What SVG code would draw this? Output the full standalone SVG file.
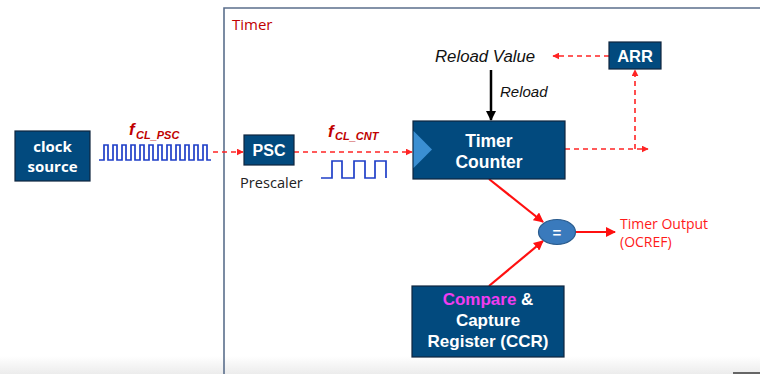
<svg xmlns="http://www.w3.org/2000/svg" width="760" height="374" viewBox="0 0 760 374">
<style>
.box{fill:#024a7e;stroke:#10263f;stroke-width:1.2}
.bt{font-family:"Liberation Sans",Arial,sans-serif;font-weight:bold;fill:#fff;text-anchor:middle}
.dash{fill:none;stroke:#ff2424;stroke-width:1.6;stroke-dasharray:5,4}
.solid{fill:none;stroke:#ff1010;stroke-width:2.2}
.sub{font-family:"Liberation Sans",Arial,sans-serif;font-weight:bold;font-style:italic;fill:#c00000}
.wave{fill:none;stroke:#1f3fc8;stroke-width:1.7}
.gs{font-family:"Open Sans","Liberation Sans",sans-serif}
</style>
<defs>
<marker id="ad" viewBox="0 0 10 10" refX="9" refY="5" markerWidth="7" markerHeight="7" markerUnits="userSpaceOnUse" orient="auto"><path d="M0,0 L10,5 L0,10 z" fill="#ff2424"/></marker>
<marker id="ar" viewBox="0 0 10 10" refX="9" refY="5" markerWidth="10" markerHeight="10" markerUnits="userSpaceOnUse" orient="auto"><path d="M0,0 L10,5 L0,10 z" fill="#ff1010"/></marker>
<marker id="ab" viewBox="0 0 10 10" refX="9" refY="5" markerWidth="10" markerHeight="10" markerUnits="userSpaceOnUse" orient="auto"><path d="M0,0 L10,5 L0,10 z" fill="#000"/></marker>
<linearGradient id="bg" x1="0" y1="0" x2="0" y2="1"><stop offset="0" stop-color="#ffffff"/><stop offset="1" stop-color="#ececec"/></linearGradient>
</defs>
<rect x="0" y="0" width="760" height="374" fill="#fff"/>
<rect x="0" y="356" width="760" height="18" fill="url(#bg)"/>
<rect x="733" y="372" width="27" height="2" fill="#666"/>
<g id="timer-frame">
<path d="M224,374 V8 H760" fill="none" stroke="#5b6f8c" stroke-width="1.6"/>
<text x="232" y="30" class="gs" font-size="15" fill="#c00000">Timer</text>
</g>
<g id="connectors">
<path class="dash" d="M213,152 H243" marker-end="url(#ad)"/>
<path class="dash" d="M294,152 H412" marker-end="url(#ad)"/>
<path class="dash" d="M565,149 H648" marker-end="url(#ad)"/>
<path class="dash" d="M635,149 V70" marker-end="url(#ad)"/>
<path class="dash" d="M609,56 H553" marker-end="url(#ad)"/>
<path d="M491,70 V120" stroke="#000" stroke-width="2.5" fill="none" marker-end="url(#ab)"/>
<path class="solid" d="M489,179 L543,222" marker-end="url(#ar)"/>
<path class="solid" d="M489,286 L543,241" marker-end="url(#ar)"/>
<path class="solid" d="M575,232 H615" marker-end="url(#ar)"/>
</g>
<g id="clock-source">
<rect class="box" x="15" y="131" width="75" height="50"/>
<text x="52.5" y="152" class="bt" font-size="15" style="font-family:'Open Sans','Liberation Sans',sans-serif">clock</text>
<text x="52.5" y="172" class="bt" font-size="15" style="font-family:'Open Sans','Liberation Sans',sans-serif">source</text>
</g>
<g id="fast-clock-wave">
<path class="wave" d="M99,160 H104 V145 H108 V160 H113 V145 H117 V160 H122 V145 H126 V160 H131 V145 H135 V160 H140 V145 H144 V160 H149 V145 H153 V160 H158 V145 H162 V160 H167 V145 H171 V160 H176 V145 H180 V160 H185 V145 H189 V160 H194 V145 H198 V160 H203 V145 H207 V160 H211"/>
<text x="129" y="135" class="sub" font-size="17">f</text>
<text x="136" y="139" class="sub" font-size="11">CL_PSC</text>
</g>
<g id="psc">
<rect class="box" x="244" y="135" width="50" height="30"/>
<text x="269" y="156" class="bt" font-size="16">PSC</text>
<text x="240" y="188" class="gs" font-size="14.6" fill="#222">Prescaler</text>
</g>
<g id="slow-clock-wave">
<path class="wave" d="M321,178 H332 V161 H342 V178 H354 V161 H365 V178 H375 V161 H386 V178"/>
<text x="328" y="137" class="sub" font-size="17">f</text>
<text x="335" y="140" class="sub" font-size="11">CL_CNT</text>
</g>
<g id="timer-counter">
<rect class="box" x="413" y="121" width="152" height="58"/>
<path d="M413.6,131 L432,149.5 L413.6,168 z" fill="#3b8fd2"/>
<text x="489" y="147" class="bt" font-size="17.5">Timer</text>
<text x="489" y="168" class="bt" font-size="17.5">Counter</text>
</g>
<g id="reload-value">
<text x="435" y="62" font-family="Liberation Sans,Arial,sans-serif" font-style="italic" font-size="16.8" fill="#111">Reload Value</text>
<text x="500" y="97" font-family="Liberation Sans,Arial,sans-serif" font-style="italic" font-size="15" fill="#111">Reload</text>
</g>
<g id="arr">
<rect class="box" x="609" y="42" width="52" height="27"/>
<text x="635" y="61.5" class="bt" font-size="16.5">ARR</text>
</g>
<g id="comparator">
<ellipse cx="557" cy="232" rx="18.5" ry="12.5" fill="#3a7abc" stroke="#2a5c8e" stroke-width="1.2"/>
<text x="557" y="237.5" class="bt" font-size="15">=</text>
</g>
<g id="timer-output">
<text x="620" y="229" class="gs" font-size="14" fill="#ff1a1a">Timer Output</text>
<text x="620" y="247" class="gs" font-size="14" fill="#ff1a1a">(OCREF)</text>
</g>
<g id="ccr">
<rect class="box" x="412" y="286" width="152" height="71"/>
<text x="488" y="305" class="bt" font-size="17"><tspan fill="#f03cf0">Compare</tspan> &amp;</text>
<text x="488" y="326" class="bt" font-size="17">Capture</text>
<text x="488" y="347" class="bt" font-size="17">Register (CCR)</text>
</g>
</svg>
